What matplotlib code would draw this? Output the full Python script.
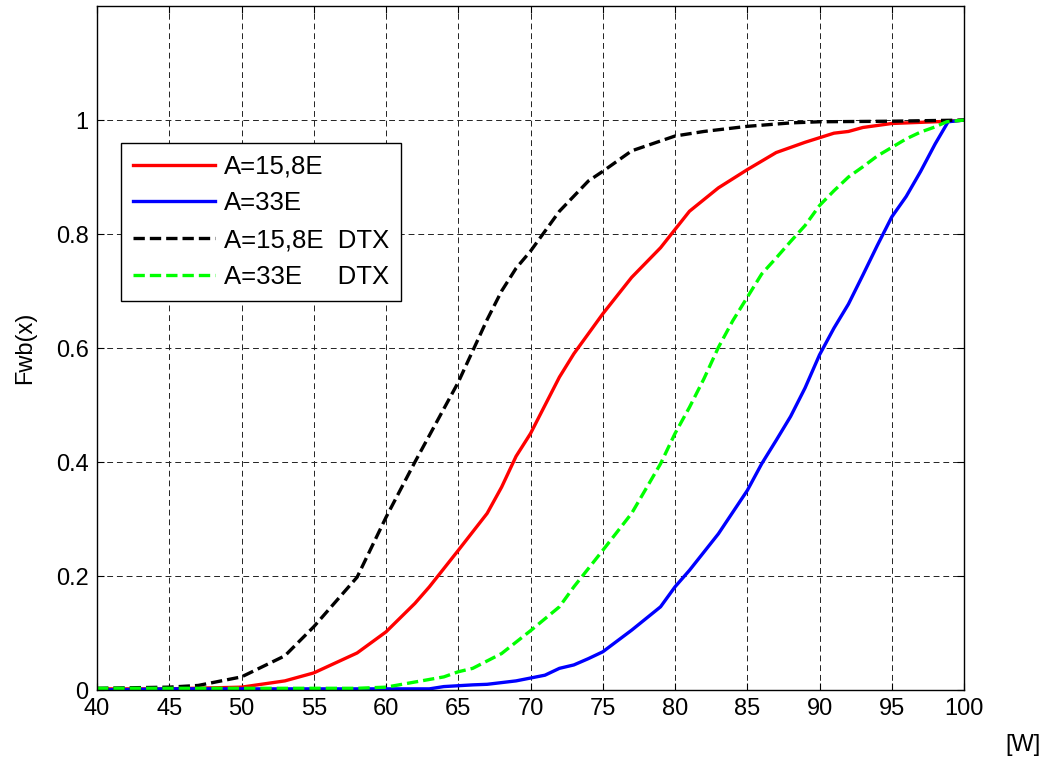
import numpy as np
import matplotlib.pyplot as plt

plt.rcParams['font.family'] = ['Liberation Sans', 'DejaVu Sans']

# Power [W] and cumulative distribution values
x_red = [40, 45, 50, 53, 55, 58, 60, 62, 63, 65, 67, 68, 69, 70, 72, 73, 75, 77, 79, 80, 81,
         83, 85, 87, 89, 91, 92, 93, 95, 97, 99, 100]
red = [0.002, 0.002, 0.005, 0.016, 0.03, 0.065, 0.102, 0.152, 0.181, 0.245, 0.31, 0.356, 0.41,
       0.45, 0.549, 0.59, 0.66, 0.724, 0.776, 0.808, 0.84, 0.881, 0.913, 0.943, 0.961, 0.977,
       0.98, 0.987, 0.994, 0.996, 0.998, 1.0]

x_blue = [40, 45, 50, 55, 60, 63, 64, 66, 67, 69, 70, 71, 72, 73, 74, 75, 77, 79, 80, 81, 83,
          85, 86, 87, 88, 89, 90, 91, 92, 93, 94, 95, 96, 97, 98, 98.9, 100]
blue = [0.0, 0.002, 0.002, 0.002, 0.002, 0.002, 0.006, 0.009, 0.01, 0.016, 0.021, 0.026, 0.038,
        0.044, 0.055, 0.067, 0.105, 0.146, 0.181, 0.21, 0.274, 0.35, 0.397, 0.438, 0.48,
        0.53, 0.588, 0.635, 0.677, 0.728, 0.78, 0.83, 0.866, 0.91, 0.958, 0.997, 1.0]

x_black = [40, 45, 47, 50, 53, 55, 58, 60, 62, 65, 67, 68, 69, 70, 72, 74, 75, 77, 80, 82, 85,
           88, 90, 95, 100]
black = [0.003, 0.005, 0.008, 0.023, 0.06, 0.111, 0.198, 0.303, 0.4, 0.54, 0.65, 0.7, 0.74,
         0.77, 0.84, 0.893, 0.91, 0.946, 0.972, 0.98, 0.989, 0.995, 0.997, 0.998, 1.0]

x_green = [40, 45, 50, 55, 58, 60, 62, 64, 65, 66, 68, 70, 72, 73, 75, 77, 79, 80, 81, 82, 83,
           84, 85, 86, 87, 88, 89, 90, 91, 92, 93, 94, 95, 96, 97, 98, 98.8, 100]
green = [0.003, 0.003, 0.003, 0.003, 0.003, 0.005, 0.014, 0.023, 0.032, 0.038, 0.064, 0.104,
         0.146, 0.181, 0.245, 0.31, 0.397, 0.45, 0.496, 0.546, 0.601, 0.648, 0.689, 0.73,
         0.758, 0.787, 0.815, 0.85, 0.876, 0.9, 0.918, 0.937, 0.952, 0.967, 0.979, 0.988,
         0.997, 1.0]

labels = ['A=15,8E', 'A=33E', 'A=15,8E  DTX', 'A=33E     DTX']

fig = plt.figure(figsize=(10.5, 7.6), dpi=100)
ax = fig.add_axes([0.0924, 0.0921, 0.8257, 0.8999])

lw = 2.4
ax.plot(x_red, red, color='#ff0000', lw=lw, label=labels[0])
ax.plot(x_blue, blue, color='#0000ff', lw=lw, label=labels[1])
ax.plot(x_black, black, color='black', lw=lw, ls=(0, (3.4, 1.5)), label=labels[2])
ax.plot(x_green, green, color='#00ff00', lw=lw, ls=(0, (3.4, 1.5)), label=labels[3])

ax.set_xlim(40, 100)
ax.set_ylim(0, 1.2)
ax.set_xticks(np.arange(40, 101, 5))
ax.set_yticks([0, 0.2, 0.4, 0.6, 0.8, 1.0])
ax.set_yticklabels(['0', '0.2', '0.4', '0.6', '0.8', '1'])
ax.tick_params(direction='in', length=5, width=0.8, labelsize=17, top=True, right=True, pad=6)
ax.grid(True, color='#222222', ls=(0, (6, 4)), lw=0.7)
for s in ax.spines.values():
    s.set_linewidth(1.0)

ax.set_ylabel('Fwb(x)', fontsize=17, labelpad=14)
fig.text(1023 / 1050, 1 - 745 / 760, '[W]', fontsize=17, ha='center', va='center')

leg = ax.legend(loc='upper left', bbox_to_anchor=(121 / 1050, 1 - 143 / 760),
                bbox_transform=fig.transFigure, fontsize=18.5, frameon=True, fancybox=False,
                edgecolor='black', framealpha=1, handlelength=3.2, handletextpad=0.35,
                labelspacing=0.5, borderpad=0.45, borderaxespad=0)
leg.get_frame().set_linewidth(1.0)

fig.savefig('out.png', dpi=100)
